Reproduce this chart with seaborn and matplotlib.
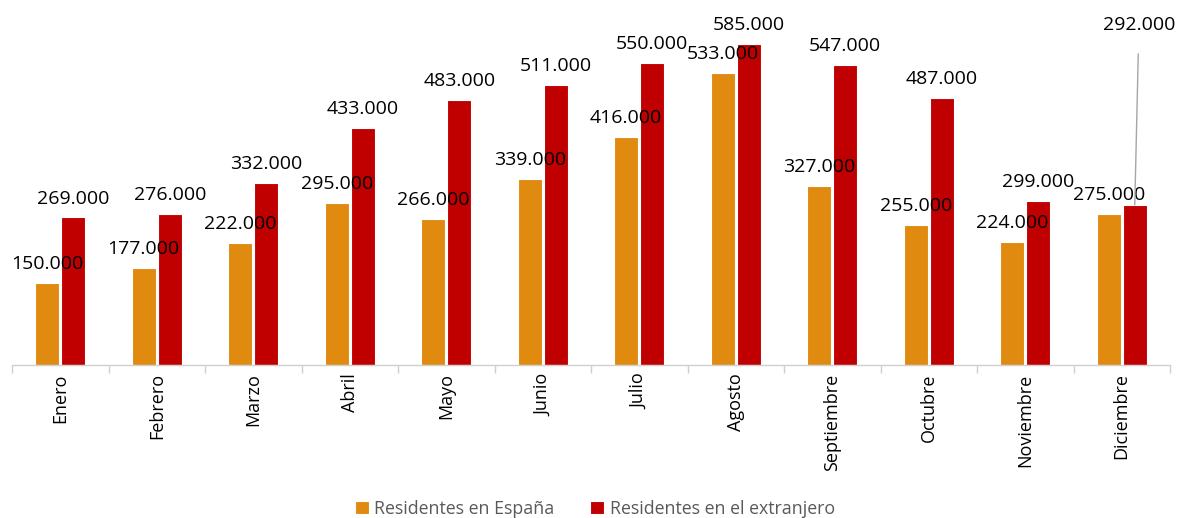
import numpy as np
import pandas as pd
import matplotlib
matplotlib.use("Agg")
import matplotlib.pyplot as plt
import seaborn as sns

# data
meses = ["Enero", "Febrero", "Marzo", "Abril", "Mayo", "Junio", "Julio",
         "Agosto", "Septiembre", "Octubre", "Noviembre", "Diciembre"]
espana = [150, 177, 222, 295, 266, 339, 416, 533, 327, 255, 224, 275]
extranjero = [269, 276, 332, 433, 483, 511, 550, 585, 547, 487, 299, 292]
series = ["Residentes en España", "Residentes en el extranjero"]
colores = ["#E08A10", "#C00000"]

df = pd.DataFrame({
    "mes": meses * 2,
    "serie": [series[0]] * 12 + [series[1]] * 12,
    "valor": espana + extranjero,
})

sns.set_style("white")
plt.rcParams['font.family'] = ['Open Sans', 'DejaVu Sans']

fig = plt.figure(figsize=(11.78, 5.18), dpi=100)
ax = fig.add_axes([12 / 1178, 153 / 518, 1158 / 1178, 340 / 518])

sns.barplot(data=df, x="mes", y="valor", hue="serie", palette=colores,
            saturation=1, width=0.54, gap=0.08, edgecolor="white",
            linewidth=0.8, legend=True, ax=ax)

ax.set_ylim(0, 620)
ax.set_xlim(-0.5, 11.5)
ax.set_xlabel("")
ax.set_ylabel("")
ax.set_yticks([])
for s in ["top", "right", "left"]:
    ax.spines[s].set_visible(False)
ax.spines["bottom"].set_color("#D0D0D0")
ax.spines["bottom"].set_linewidth(1)

# labels rotated, tick marks between categories
ax.set_xticks(range(12))
ax.set_xticklabels(meses, rotation=90, fontsize=13, color="#000000")
ax.tick_params(axis="x", which="major", bottom=True, length=0, pad=6)
ax.set_xticks(np.arange(-0.5, 12, 1), minor=True)
ax.tick_params(axis="x", which="minor", bottom=True, length=6,
               color="#D0D0D0", width=1)

def fmt(v):
    return f"{v}.000"

for i, cont in enumerate(ax.containers):
    for j, bar in enumerate(cont):
        v = [espana, extranjero][i][j]
        x = bar.get_x() + bar.get_width() / 2
        h = bar.get_height()
        if i == 1 and j == 11:
            ax.annotate(fmt(v), xy=(x, h), xytext=(3, 126),
                        textcoords="offset points", ha="center", va="baseline",
                        fontsize=14, color="black", annotation_clip=False,
                        arrowprops=dict(arrowstyle="-", color="#A6A6A6",
                                        lw=1, shrinkA=12, shrinkB=0))
        else:
            ax.annotate(fmt(v), xy=(x, h), xytext=(0, 10),
                        textcoords="offset points", ha="center", va="baseline",
                        fontsize=14, color="black", annotation_clip=False)

handles, labels = ax.get_legend_handles_labels()
ax.get_legend().remove()
leg = fig.legend(handles, labels, loc="lower center", bbox_to_anchor=(0.505, -0.03),
                 ncol=2, frameon=False, fontsize=12.8, handlelength=0.8,
                 handleheight=0.8, handletextpad=0.3, columnspacing=2.0)
for t in leg.get_texts():
    t.set_color("#595959")

fig.savefig("out.png", dpi=100)
